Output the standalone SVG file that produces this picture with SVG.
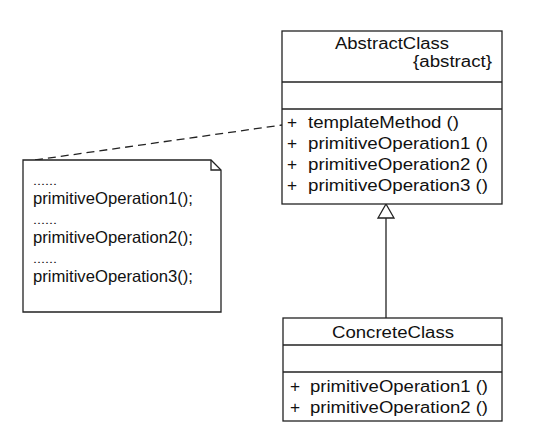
<svg xmlns="http://www.w3.org/2000/svg" width="550" height="439" viewBox="0 0 550 439">
  <style>
    .box { fill: #fff; stroke: #222; stroke-width: 1.3; }
    .sep { stroke: #222; stroke-width: 1.3; }
    .t { font-family: "Liberation Sans", Arial, sans-serif; font-size: 17.3px; fill: #111; }
    .n { font-family: "Liberation Sans", Arial, sans-serif; font-size: 16.5px; fill: #111; }
    .dots { font-family: "Liberation Sans", Arial, sans-serif; font-size: 10px; fill: #111; }
  </style>
  <rect width="550" height="439" fill="#fff"/>

  <!-- connectors -->
  <g id="connectors">
    <line x1="35" y1="160" x2="282" y2="125" stroke="#222" stroke-width="1.3" stroke-dasharray="8,5"/>
    <line x1="386" y1="218" x2="386" y2="318" stroke="#222" stroke-width="1.3"/>
    <polygon points="386,204 378,218 394,218" fill="#fff" stroke="#222" stroke-width="1.3"/>
  </g>

  <!-- abstract class -->
  <g id="AbstractClass">
    <rect class="box" x="282" y="31" width="220" height="173"/>
    <line class="sep" x1="282" y1="82" x2="502" y2="82"/>
    <line class="sep" x1="282" y1="109" x2="502" y2="109"/>
    <text class="t" x="335" y="49" textLength="114" lengthAdjust="spacingAndGlyphs">AbstractClass</text>
    <text class="t" x="413" y="67" textLength="79" lengthAdjust="spacingAndGlyphs">{abstract}</text>
    <text class="t" x="287" y="128">+</text>
    <text class="t" x="308" y="128" textLength="151" lengthAdjust="spacingAndGlyphs">templateMethod ()</text>
    <text class="t" x="287" y="149">+</text>
    <text class="t" x="308" y="149" textLength="180" lengthAdjust="spacingAndGlyphs">primitiveOperation1 ()</text>
    <text class="t" x="287" y="170">+</text>
    <text class="t" x="308" y="170" textLength="180" lengthAdjust="spacingAndGlyphs">primitiveOperation2 ()</text>
    <text class="t" x="287" y="191">+</text>
    <text class="t" x="308" y="191" textLength="180" lengthAdjust="spacingAndGlyphs">primitiveOperation3 ()</text>
  </g>

  <!-- note attached to templateMethod -->
  <g id="Note">
    <path class="box" d="M23,160 H211 L221,170 V312 H23 Z"/>
    <path d="M211,160 V170 H221" fill="none" stroke="#222" stroke-width="1.3"/>
    <text class="dots" x="33" y="185" textLength="24" lengthAdjust="spacingAndGlyphs">......</text>
    <text class="n" x="33" y="204" textLength="160" lengthAdjust="spacingAndGlyphs">primitiveOperation1();</text>
    <text class="dots" x="33" y="224" textLength="24" lengthAdjust="spacingAndGlyphs">......</text>
    <text class="n" x="33" y="243" textLength="160" lengthAdjust="spacingAndGlyphs">primitiveOperation2();</text>
    <text class="dots" x="33" y="263" textLength="24" lengthAdjust="spacingAndGlyphs">......</text>
    <text class="n" x="33" y="282" textLength="160" lengthAdjust="spacingAndGlyphs">primitiveOperation3();</text>
  </g>

  <!-- concrete class -->
  <g id="ConcreteClass">
    <rect class="box" x="283" y="318" width="219" height="103"/>
    <line class="sep" x1="283" y1="345" x2="502" y2="345"/>
    <line class="sep" x1="283" y1="372" x2="502" y2="372"/>
    <text class="t" x="332" y="338" textLength="122" lengthAdjust="spacingAndGlyphs">ConcreteClass</text>
    <text class="t" x="290" y="392">+</text>
    <text class="t" x="310" y="392" textLength="178" lengthAdjust="spacingAndGlyphs">primitiveOperation1 ()</text>
    <text class="t" x="290" y="413">+</text>
    <text class="t" x="310" y="413" textLength="178" lengthAdjust="spacingAndGlyphs">primitiveOperation2 ()</text>
  </g>
</svg>
